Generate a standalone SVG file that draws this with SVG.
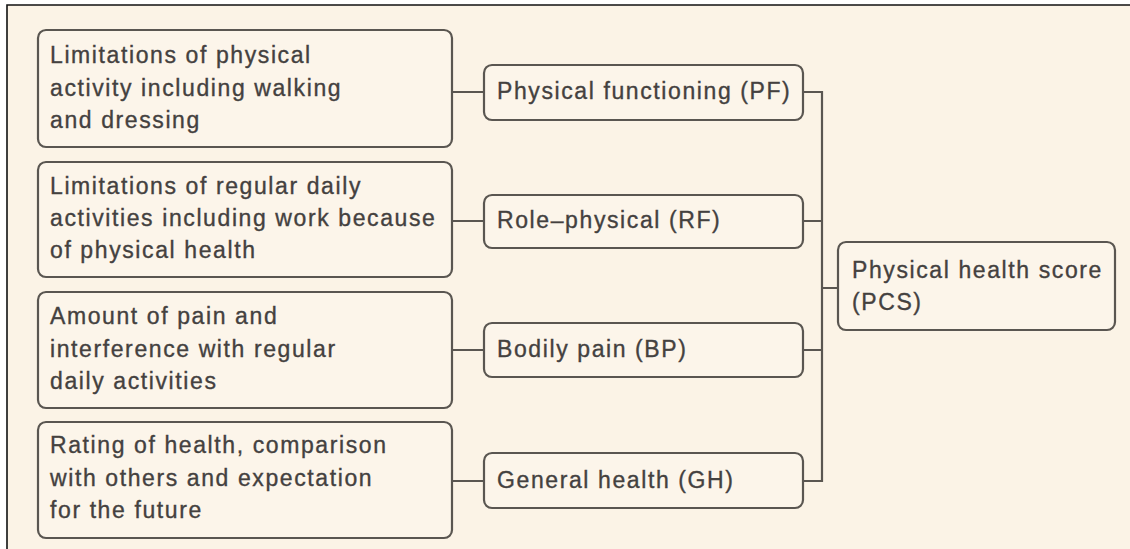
<svg xmlns="http://www.w3.org/2000/svg" width="1130" height="549" viewBox="0 0 1130 549">
<style>
.bx{fill:#fcf5ea;stroke:#5a5651;stroke-width:2.2}
.t{font-family:"Liberation Sans",Arial,sans-serif;font-size:23px;letter-spacing:1.6px;fill:#44413f;stroke:#44413f;stroke-width:0.35}
.c{stroke:#5a5651;stroke-width:2.2;fill:none}
</style>
<rect x="0" y="0" width="1130" height="549" fill="#ffffff"/>
<rect x="7" y="5" width="1123" height="544" fill="#fbf3e6"/>
<path d="M7 549 V5 H1130" fill="none" stroke="#111" stroke-width="1.6"/>
<g id="connectors">
<path class="c" d="M452 92 H484 M452 221 H484 M452 350 H484 M452 481 H484"/>
<path class="c" d="M803 92 H822 M803 221 H822 M803 350 H822 M803 481 H822 M822 91 V482 M822 288 H838"/>
</g>
<g id="desc-pf">
<rect class="bx" x="38" y="30" width="414" height="117" rx="8"/>
<text class="t" x="50" y="63">Limitations of physical<tspan x="50" dy="32.5">activity including walking</tspan><tspan x="50" dy="32.5">and dressing</tspan></text>
</g>
<g id="desc-rf">
<rect class="bx" x="38" y="162" width="414" height="115" rx="8"/>
<text class="t" x="50" y="194">Limitations of regular daily<tspan x="50" dy="32">activities including work because</tspan><tspan x="50" dy="32">of physical health</tspan></text>
</g>
<g id="desc-bp">
<rect class="bx" x="38" y="292" width="414" height="116" rx="8"/>
<text class="t" x="50" y="324">Amount of pain and<tspan x="50" dy="32.5">interference with regular</tspan><tspan x="50" dy="32">daily activities</tspan></text>
</g>
<g id="desc-gh">
<rect class="bx" x="38" y="422" width="414" height="116" rx="8"/>
<text class="t" x="50" y="453">Rating of health, comparison<tspan x="50" dy="32.5">with others and expectation</tspan><tspan x="50" dy="32">for the future</tspan></text>
</g>
<g id="pf">
<rect class="bx" x="484" y="65" width="319" height="55" rx="8"/>
<text class="t" x="497" y="99">Physical functioning (PF)</text>
</g>
<g id="rf">
<rect class="bx" x="484" y="195" width="319" height="53" rx="8"/>
<text class="t" x="497" y="228">Role–physical (RF)</text>
</g>
<g id="bp">
<rect class="bx" x="484" y="323" width="319" height="54" rx="8"/>
<text class="t" x="497" y="357">Bodily pain (BP)</text>
</g>
<g id="gh">
<rect class="bx" x="484" y="453" width="319" height="55" rx="8"/>
<text class="t" x="497" y="488">General health (GH)</text>
</g>
<g id="pcs">
<rect class="bx" x="838" y="242" width="277" height="88" rx="8"/>
<text class="t" x="852" y="278">Physical health score<tspan x="852" dy="32">(PCS)</tspan></text>
</g>
</svg>
